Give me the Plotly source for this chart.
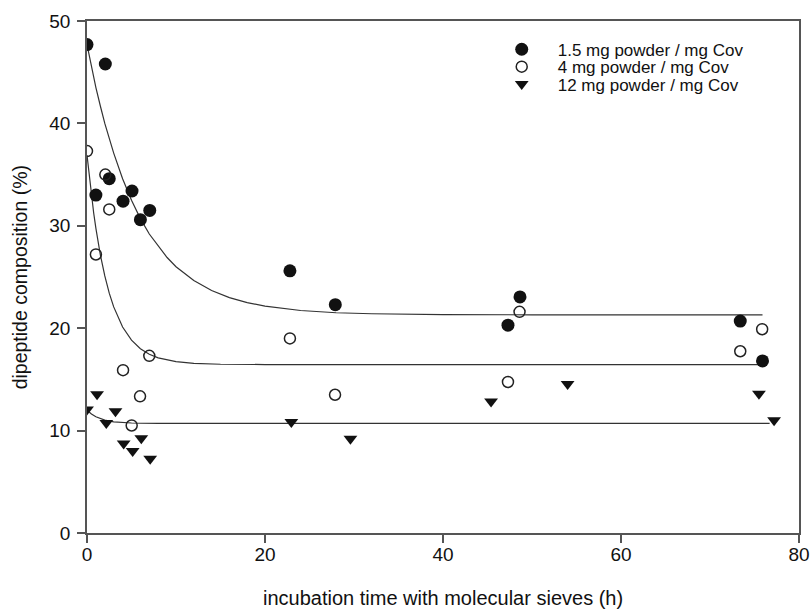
import plotly.graph_objects as go

# --- data ---
t_15 = [0, 1.0, 2.06, 2.5, 4.05, 5.06, 6.0, 7.05, 22.8, 27.9, 47.3, 48.65, 73.4, 75.9]
y_15 = [47.7, 33.0, 45.8, 34.6, 32.4, 33.4, 30.6, 31.5, 25.6, 22.3, 20.3, 23.05, 20.7, 16.8]

t_4 = [0, 1.0, 2.06, 2.5, 4.05, 5.02, 5.96, 7.0, 22.8, 27.87, 47.3, 48.6, 73.4, 75.86]
y_4 = [37.3, 27.2, 35.0, 31.6, 15.9, 10.5, 13.35, 17.3, 19.0, 13.5, 14.75, 21.6, 17.75, 19.9]

t_12 = [0, 1.13, 2.17, 3.2, 4.12, 5.13, 6.1, 7.1, 22.96, 29.6, 45.4, 54.0, 75.5, 77.2]
y_12 = [12.05, 13.55, 10.75, 11.9, 8.75, 8.0, 9.25, 7.25, 10.85, 9.2, 12.85, 14.55, 13.6, 11.0]

# fitted curves
fit1_t = [0, 0.5, 1, 1.5, 2, 3, 4, 5, 6, 7, 8, 9, 10, 12, 14, 16, 18, 20, 24, 28, 32, 40, 50, 60, 75.9]
fit1_y = [47.7, 45.5, 43.5, 41.7, 40.0, 37.1, 34.6, 32.5, 30.7, 29.2, 28.0, 26.9, 26.0, 24.65,
          23.68, 22.99, 22.5, 22.15, 21.73, 21.51, 21.41, 21.33, 21.31, 21.3, 21.3]

fit2_t = [0, 0.25, 0.5, 0.75, 1, 1.5, 2, 2.5, 3, 4, 5, 6, 7, 8, 10, 12, 15, 20, 40, 60, 75.5]
fit2_y = [36.9, 34.8, 32.95, 31.25, 29.75, 27.15, 25.1, 23.42, 22.08, 20.11, 18.83, 18.0, 17.46,
          17.1, 16.73, 16.57, 16.48, 16.45, 16.45, 16.45, 16.45]

fit3_t = [0, 0.5, 1, 1.5, 2, 3, 4, 5, 6, 8, 20, 40, 76.7]
fit3_y = [12.0, 11.62, 11.35, 11.15, 11.02, 10.86, 10.78, 10.74, 10.72, 10.7, 10.7, 10.7, 10.7]

x_ticks = [0, 20, 40, 60, 80]
y_ticks = [0, 10, 20, 30, 40, 50]

labels = ["1.5 mg powder / mg Cov", "4 mg powder / mg Cov", "12 mg powder / mg Cov"]
x_title = "incubation time with molecular sieves (h)"
y_title = "dipeptide composition (%)"

FONT = "Liberation Sans, Arial, sans-serif"
TXT = "#111111"
LINE = "#333333"
AX = "#555555"

fig = go.Figure()

for ft, fy in [(fit1_t, fit1_y), (fit2_t, fit2_y), (fit3_t, fit3_y)]:
    fig.add_trace(go.Scatter(x=ft, y=fy, mode="lines", line=dict(color=LINE, width=1.2),
                             showlegend=False, hoverinfo="skip"))

fig.add_trace(go.Scatter(x=t_15, y=y_15, mode="markers", name=labels[0], legend="legend",
                         marker=dict(symbol="circle", size=13, color="#111111",
                                     line=dict(width=0))))
fig.add_trace(go.Scatter(x=t_4, y=y_4, mode="markers", name=labels[1], legend="legend2",
                         marker=dict(symbol="circle-open", size=11, color="#222222",
                                     line=dict(width=1.5, color="#222222"))))
fig.add_trace(go.Scatter(x=t_12, y=y_12, mode="markers", name=labels[2], legend="legend3",
                         marker=dict(symbol="triangle-down", size=12, color="#111111",
                                     line=dict(width=0))))

leg_common = dict(x=0.560, xanchor="left", yanchor="middle", bgcolor="rgba(0,0,0,0)",
                  borderwidth=0, itemwidth=62,
                  font=dict(family=FONT, size=17, color=TXT),
                  itemclick=False, itemdoubleclick=False)

axis_common = dict(showgrid=False, zeroline=False, automargin=False,
                   showline=True, linecolor=AX, linewidth=1.5, mirror=True,
                   ticks="outside", ticklen=8, tickwidth=1.5, tickcolor=AX,
                   tickfont=dict(family=FONT, size=19, color=TXT))

fig.update_layout(
    template="none",
    width=812, height=611,
    margin=dict(l=87, r=13, t=21, b=78, autoexpand=False),
    paper_bgcolor="white", plot_bgcolor="white",
    font=dict(family=FONT, size=19, color=TXT),
    showlegend=True,
    legend=dict(y=0.9440, **leg_common),
    legend2=dict(y=0.9100, **leg_common),
    legend3=dict(y=0.8760, **leg_common),
    xaxis=dict(range=[0, 80], tickvals=x_ticks, ticklabelstandoff=-5, **axis_common),
    yaxis=dict(range=[0, 50], tickvals=y_ticks, ticklabelstandoff=3, **axis_common),
    annotations=[
        dict(text=x_title, xref="paper", yref="paper", x=0.5, y=-0.1275,
             xanchor="center", yanchor="middle", showarrow=False,
             font=dict(family=FONT, size=20, color=TXT)),
        dict(text=y_title, xref="paper", yref="paper", x=-0.0936, y=0.5,
             xanchor="center", yanchor="middle", showarrow=False, textangle=-90,
             font=dict(family=FONT, size=19.5, color=TXT)),
    ],
)

fig.write_html("out.html")
